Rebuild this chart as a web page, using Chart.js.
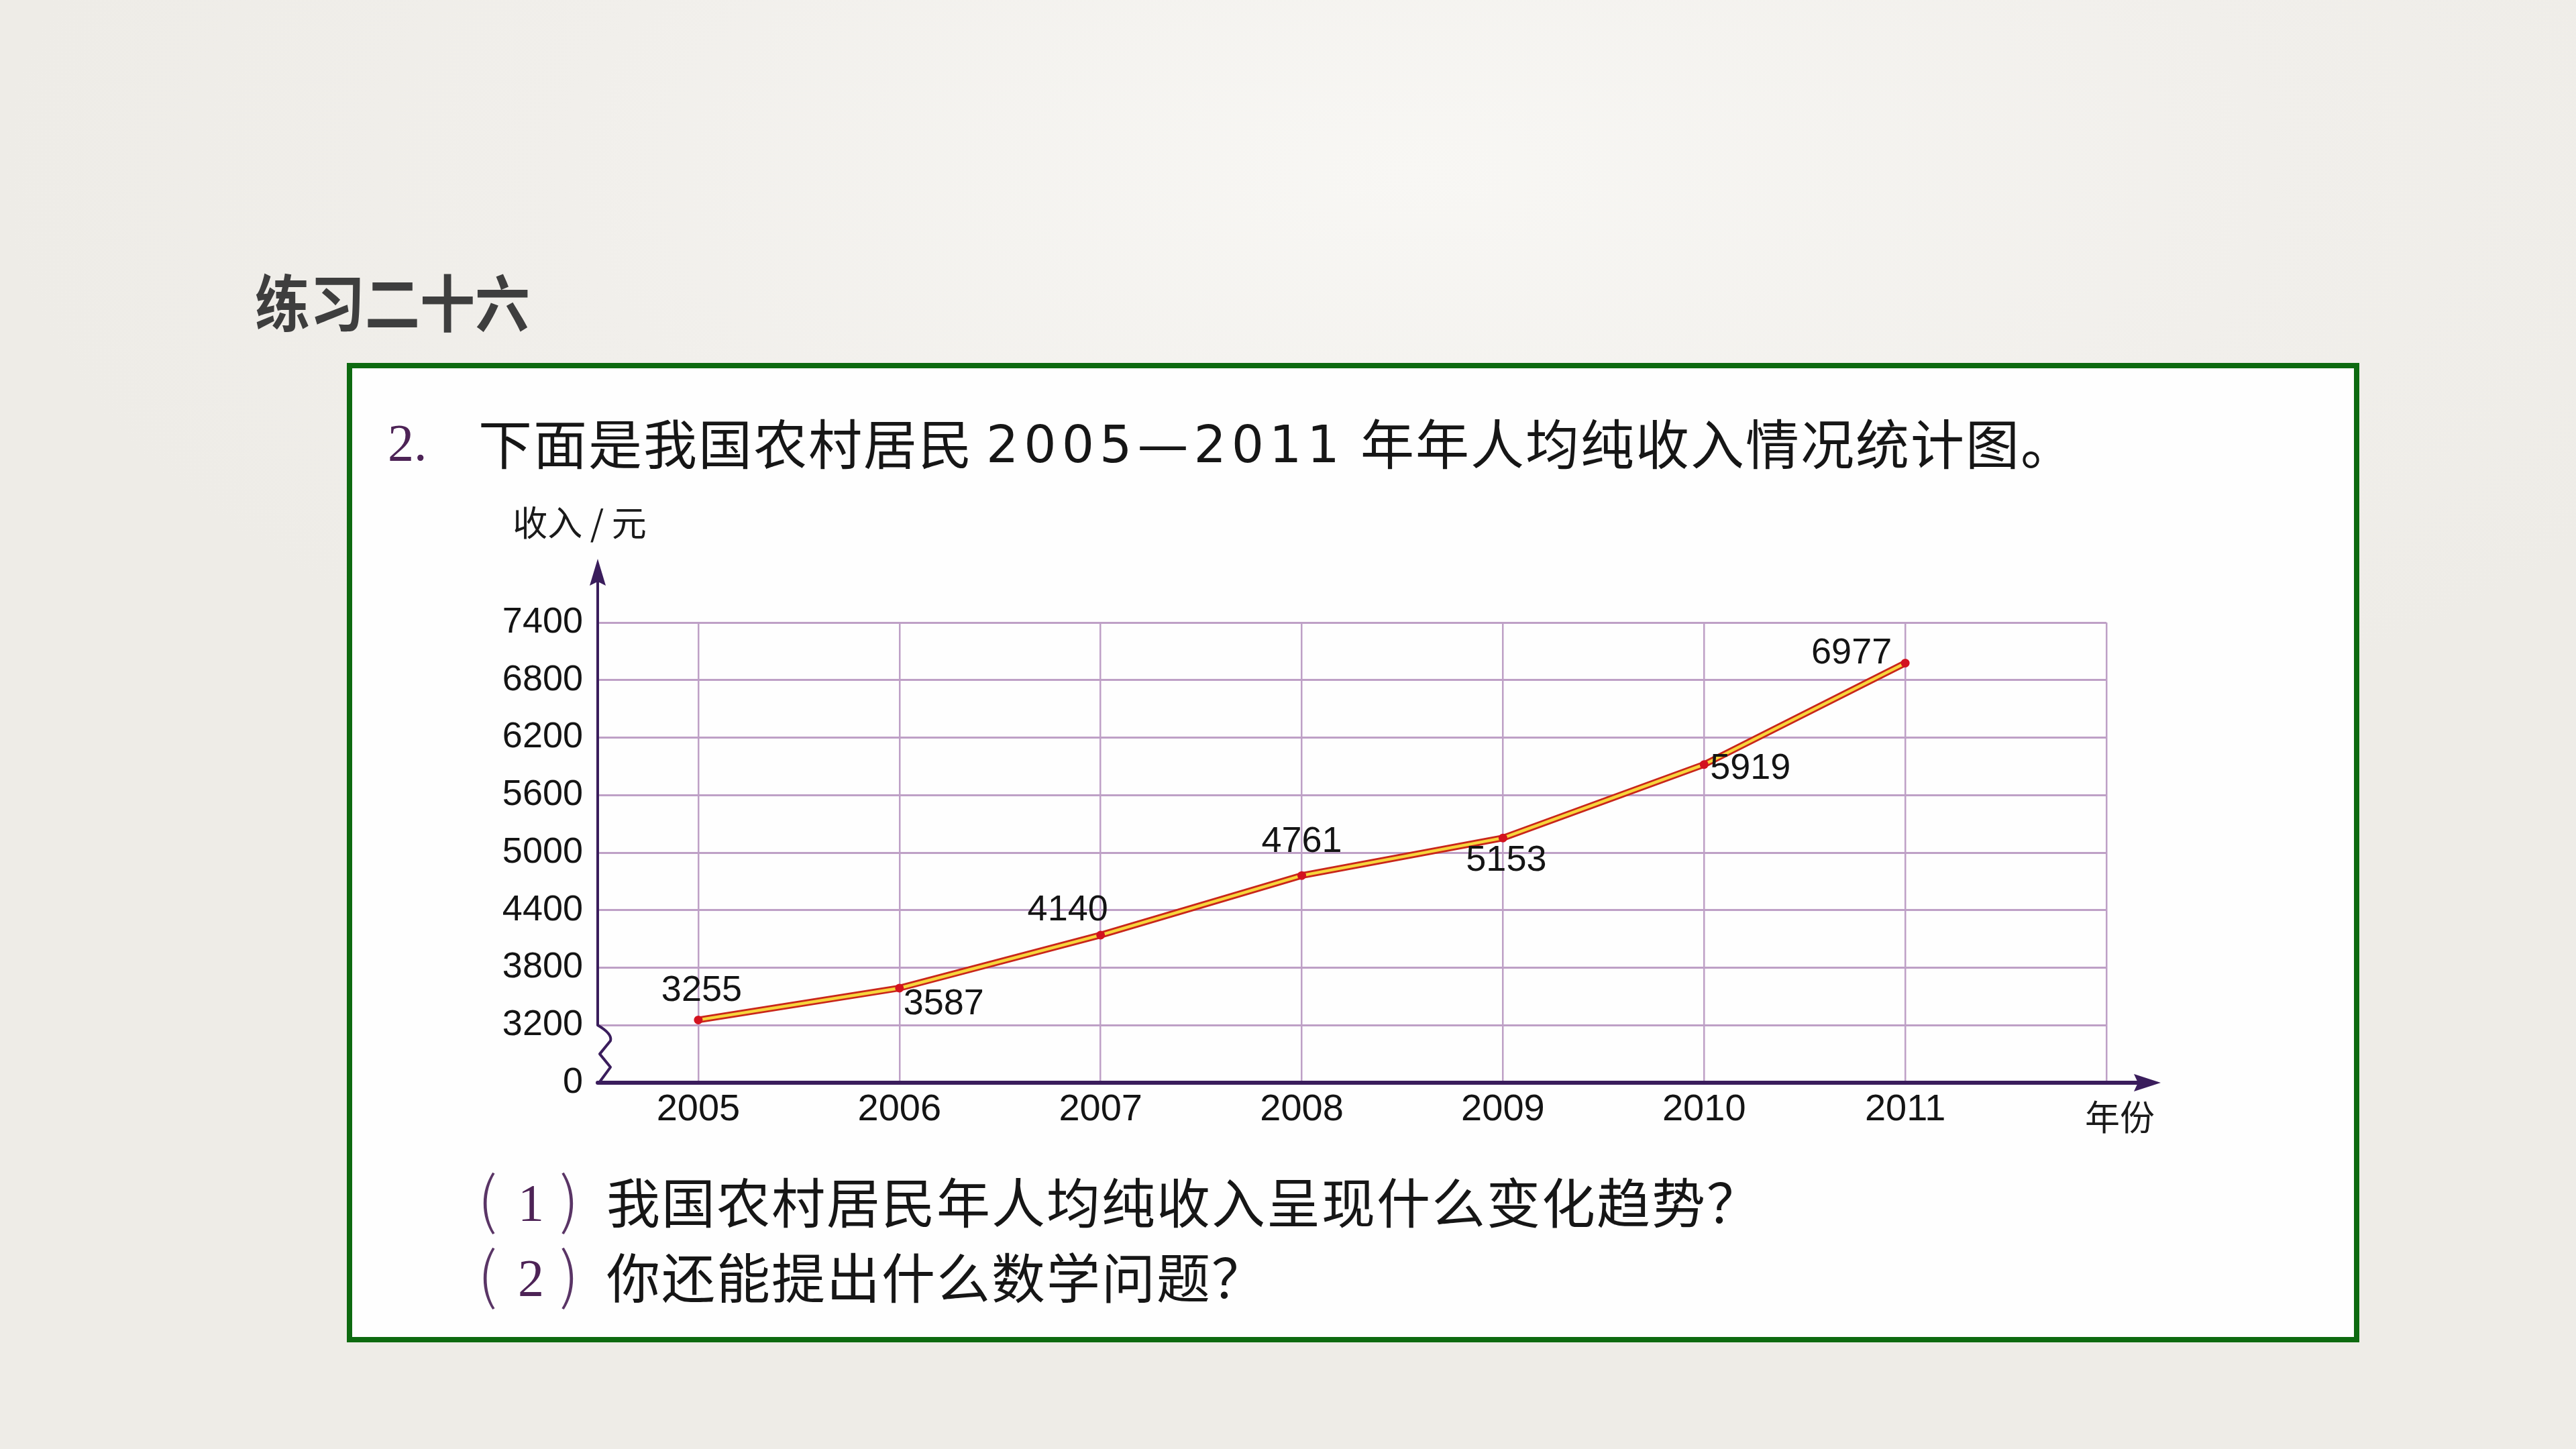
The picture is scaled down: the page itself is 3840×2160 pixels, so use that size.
<!DOCTYPE html>
<html>
<head>
<meta charset="utf-8">
<script src="https://cdn.jsdelivr.net/npm/chart.js@4.4.1/dist/chart.umd.min.js"></script>
<style>
html,body{margin:0;padding:0;width:3840px;height:2160px;overflow:hidden;}
body{position:relative;background:radial-gradient(ellipse 55% 45% at 55% 12%, #f8f7f4 0%, #f1efeb 60%, #eeece7 100%);font-family:"Noto Sans CJK SC","Noto Sans",sans-serif;}
.abs{position:absolute;white-space:nowrap;line-height:1;}
#title{left:380px;top:407px;font-size:82px;font-weight:700;color:#3e3e3e;transform:scaleY(1.12);transform-origin:left center;}
#box{left:517px;top:541px;width:3000px;height:1460px;box-sizing:border-box;border:8px solid #0d6a10;background:#fefefe;}
.cjk{font-size:80px;letter-spacing:2px;color:#161616;font-family:"Noto Sans CJK SC",sans-serif;}
.num{font-family:"Liberation Serif",serif;font-size:78px;color:#4d2356;}
.par{font-family:"Noto Sans CJK SC",sans-serif;font-weight:300;font-size:92px;color:#5a3566;}
.sans{font-family:"DejaVu Sans",sans-serif;font-size:76px;color:#161616;letter-spacing:8px;}
canvas{position:absolute;left:0;top:0;z-index:2;}
</style>
</head>
<body>
<div id="title" class="abs">练习二十六</div>
<div id="box" class="abs"></div>

<div class="abs num" style="left:578px;top:621px;">2.</div>
<div class="abs cjk" style="left:713px;top:617px;">下面是我国农村居民</div>
<div class="abs sans" style="left:1470px;top:625px;">2005—2011</div>
<div class="abs cjk" style="left:2028px;top:617px;">年年人均纯收入情况统计图。</div>

<div class="abs par" style="left:712px;top:1736px;">(</div>
<div class="abs num" style="left:772px;top:1754px;">1</div>
<div class="abs par" style="left:834px;top:1736px;">)</div>
<div class="abs cjk" style="left:904px;top:1748px;">我国农村居民年人均纯收入呈现什么变化趋势？</div>

<div class="abs par" style="left:712px;top:1848px;">(</div>
<div class="abs num" style="left:772px;top:1866px;">2</div>
<div class="abs par" style="left:834px;top:1848px;">)</div>
<div class="abs cjk" style="left:904px;top:1860px;">你还能提出什么数学问题？</div>

<canvas id="c" width="3840" height="2160"></canvas>

<script>
// ---- data ----
const years = [2005, 2006, 2007, 2008, 2009, 2010, 2011];
const incomes = [3255, 3587, 4140, 4761, 5153, 5919, 6977];
const yTicks = [2600, 3200, 3800, 4400, 5000, 5600, 6200, 6800, 7400];
const yTickLabels = ['0', '3200', '3800', '4400', '5000', '5600', '6200', '6800', '7400'];
const xAxisTitle = '年份';
const yAxisTitle = '收入 / 元';

// ---- styling ----
const AXIS = '#3a1d5c';
const GRID = '#bea0c6';
const labelOffsets = [[5, -43], [66, 24], [-49, -37], [0, -50], [5, 34], [69, 6], [-80, -14]];

const points = years.map((y, i) => ({ x: y, y: incomes[i] }));

const deco = {
  id: 'deco',
  beforeDatasetsDraw(chart) {
    const { ctx, chartArea, scales } = chart;
    const ys = scales.y;
    const x0 = chartArea.left;
    const yBase = ys.getPixelForValue(yTicks[0]);
    const yBreak = ys.getPixelForValue(yTicks[1]);
    const yTop = ys.getPixelForValue(yTicks[yTicks.length - 1]);
    const tipY = yTop - 95;
    const tipX = chartArea.right + 81;
    const h = yBase - yBreak;
    ctx.save();
    ctx.strokeStyle = AXIS;
    ctx.fillStyle = AXIS;
    ctx.lineJoin = 'round';
    ctx.lineCap = 'round';
    // y axis with break
    ctx.lineWidth = 4;
    ctx.beginPath();
    ctx.moveTo(x0, tipY + 30);
    ctx.lineTo(x0, yBreak);
    ctx.quadraticCurveTo(x0 + 22, yBreak + 0.15 * h, x0 + 19, yBreak + 0.27 * h);
    ctx.lineTo(x0 + 3, yBreak + 0.5 * h);
    ctx.lineTo(x0 + 19, yBreak + 0.73 * h);
    ctx.lineTo(x0 + 2, yBase);
    ctx.stroke();
    // y arrow
    ctx.beginPath();
    ctx.moveTo(x0, tipY);
    ctx.lineTo(x0 + 12, tipY + 40);
    ctx.lineTo(x0, tipY + 34);
    ctx.lineTo(x0 - 12, tipY + 40);
    ctx.closePath();
    ctx.fill();
    // x axis
    ctx.lineWidth = 6;
    ctx.beginPath();
    ctx.moveTo(x0, yBase);
    ctx.lineTo(tipX - 30, yBase);
    ctx.stroke();
    ctx.beginPath();
    ctx.moveTo(tipX, yBase);
    ctx.lineTo(tipX - 40, yBase - 13);
    ctx.lineTo(tipX - 34, yBase);
    ctx.lineTo(tipX - 40, yBase + 13);
    ctx.closePath();
    ctx.fill();
    // axis titles
    ctx.fillStyle = '#1a1a1a';
    ctx.font = '52px "Noto Sans CJK SC"';
    ctx.textAlign = 'center';
    ctx.textBaseline = 'middle';
    ctx.fillText(yAxisTitle, x0 - 27, yTop - 149);
    ctx.fillText(xAxisTitle, chartArea.right + 20, yBase + 51);
    ctx.restore();
  },
  afterDatasetsDraw(chart) {
    const { ctx, scales } = chart;
    ctx.save();
    ctx.fillStyle = '#141414';
    ctx.font = '54px "Liberation Sans"';
    ctx.textAlign = 'center';
    ctx.textBaseline = 'middle';
    incomes.forEach((v, i) => {
      const px = scales.x.getPixelForValue(years[i]);
      const py = scales.y.getPixelForValue(v);
      const o = labelOffsets[i];
      ctx.fillText(String(v), px + o[0], py + o[1]);
    });
    ctx.restore();
  }
};

new Chart(document.getElementById('c'), {
  type: 'line',
  data: {
    datasets: [
      { data: points, borderColor: '#f7d53c', borderWidth: 4.5, pointRadius: 6.5, pointBackgroundColor: '#d3121f', pointBorderWidth: 0, tension: 0, order: 1 },
      { data: points, borderColor: '#c9261a', borderWidth: 10, pointRadius: 0, tension: 0, order: 2 }
    ]
  },
  options: {
    responsive: false,
    devicePixelRatio: 1,
    animation: false,
    layout: { padding: { left: 691, right: 700, top: 928, bottom: 426 } },
    plugins: { legend: { display: false }, tooltip: { enabled: false } },
    scales: {
      x: {
        type: 'linear',
        min: years[0] - 0.5,
        max: years[years.length - 1] + 1,
        afterBuildTicks: s => { s.ticks = years.concat([years[years.length - 1] + 1]).map(v => ({ value: v })); },
        afterFit: s => { s.height = 120; },
        border: { display: false },
        grid: { color: GRID, lineWidth: 2.5, drawTicks: false },
        ticks: {
          padding: 7,
          color: '#141414',
          font: { family: '"Liberation Sans Narrow", "Liberation Sans"', size: 56 },
          callback: v => years.includes(v) ? String(v) : ''
        }
      },
      y: {
        min: yTicks[0],
        max: yTicks[yTicks.length - 1],
        afterBuildTicks: s => { s.ticks = yTicks.map(v => ({ value: v })); },
        afterFit: s => { s.width = 200; },
        border: { display: false },
        grid: { color: c => (c.tick && c.tick.value === yTicks[0]) ? 'rgba(0,0,0,0)' : GRID, lineWidth: 3, drawTicks: false },
        ticks: {
          padding: 22,
          color: '#141414',
          font: { family: '"Liberation Sans"', size: 54 },
          callback: v => { const i = yTicks.indexOf(v); return i >= 0 ? yTickLabels[i] : ''; }
        }
      }
    }
  },
  plugins: [deco]
});
</script>
</body>
</html>
